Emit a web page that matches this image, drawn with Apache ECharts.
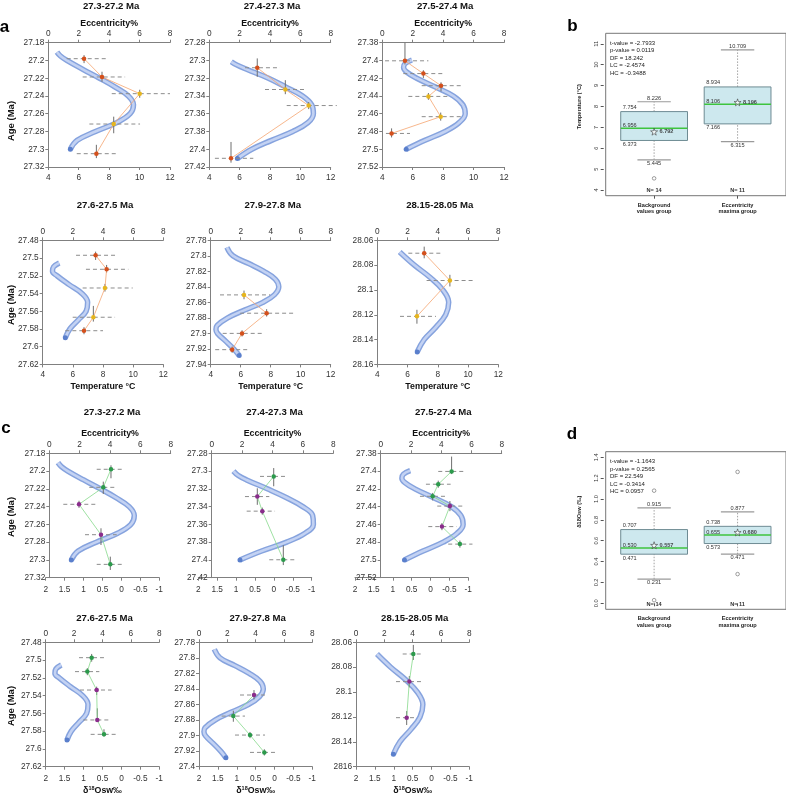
<!DOCTYPE html>
<html>
<head>
<meta charset="utf-8"/>
<title>Eccentricity vs temperature / d18Osw</title>
<script src="https://cdn.jsdelivr.net/npm/echarts@6/dist/echarts.min.js"></script>
<style>
  body { margin: 0; padding: 0; background: #fff; }
  #chart { width: 786px; height: 794px; }
</style>
</head>
<body>
<div id="chart"></div>
<script>
const FONT = '"Liberation Sans", Arial, sans-serif';

// eccentricity curves (age in Ma, eccentricity in %)
const ageW1 = [27.1905, 27.195, 27.2, 27.21, 27.22, 27.23, 27.24, 27.25, 27.26, 27.27, 27.28, 27.29, 27.3];
const eccW1 = [0.57, 0.8, 1.22, 2.27, 3.37, 4.4, 5.26, 5.6, 5.38, 4.5, 3.1, 1.9, 1.45];
const ageW2a = [27.3015, 27.305, 27.31, 27.32, 27.33, 27.34, 27.35, 27.36, 27.37, 27.38, 27.39, 27.40, 27.4105];
const eccW2a = [1.45, 1.8, 2.46, 3.9, 5.05, 6.15, 6.75, 6.86, 6.5, 5.5, 4.1, 2.8, 1.85];
const ageW2c = [27.30, 27.305, 27.31, 27.32, 27.33, 27.34, 27.35, 27.36, 27.37, 27.38, 27.39, 27.40];
const eccW2c = [1.43, 1.75, 2.3, 3.66, 4.93, 5.99, 6.64, 6.69, 6.14, 4.93, 3.29, 1.86];
const ageW3 = [27.3995, 27.4035, 27.408, 27.413, 27.42, 27.43, 27.44, 27.45, 27.46, 27.47, 27.48, 27.49, 27.50];
const eccW3 = [1.95, 1.5, 1.4, 1.6, 2.26, 3.5, 4.67, 5.3, 5.45, 5.05, 4.13, 2.8, 1.57];
const ageW4 = [27.5055, 27.51, 27.515, 27.52, 27.53, 27.54, 27.55, 27.56, 27.57, 27.58, 27.59];
const eccW4 = [1.1, 0.72, 0.65, 0.95, 1.75, 2.6, 2.98, 2.88, 2.35, 1.8, 1.5];
const ageW5 = [27.789, 27.8, 27.81, 27.82, 27.83, 27.84, 27.85, 27.86, 27.87, 27.88, 27.89, 27.895, 27.9, 27.91, 27.92, 27.9285];
const eccW5 = [1.08, 1.48, 2.54, 3.55, 4.3, 4.54, 4.26, 3.48, 2.26, 1.13, 0.42, 0.35, 0.45, 1.0, 1.53, 1.9];
const ageW6 = [28.0694, 28.08, 28.09, 28.10, 28.11, 28.12, 28.13, 28.14, 28.15];
const eccW6 = [1.48, 2.45, 3.5, 4.33, 4.72, 4.52, 3.88, 3.1, 2.64];

// proxy samples: [value, age, err low, err high, age low, age high, group (0 background, 1 maxima)]
const ptsA1 = [
  [6.35, 27.198, 5.21, 7.88, 27.194, 27.203, 0],
  [7.53, 27.2186, 6.26, 9.05, 27.2127, 27.2239, 0],
  [10.01, 27.2374, 8.17, 12.0, 27.233, 27.242, 1],
  [8.3, 27.2716, 6.7, 10.03, 27.2633, 27.282, 1],
  [7.16, 27.305, 5.87, 8.6, 27.295, 27.31, 0]
];
const ptsA2 = [
  [7.16, 27.3082, 6.35, 8.66, 27.2977, 27.3184, 0],
  [9.01, 27.3327, 7.67, 10.37, 27.3222, 27.338, 1],
  [10.55, 27.3508, 9.1, 12.4, 27.3468, 27.3548, 1],
  [5.43, 27.4102, 4.37, 6.9, 27.3918, 27.4151, 0]
];
const ptsA3 = [
  [5.49, 27.4004, 4.18, 7.03, 27.38, 27.4045, 0],
  [6.7, 27.4148, 5.38, 8.01, 27.411, 27.4197, 0],
  [7.86, 27.4284, 6.59, 9.33, 27.4246, 27.4348, 0],
  [7.03, 27.4405, 5.71, 8.34, 27.4367, 27.4443, 1],
  [7.84, 27.4633, 6.59, 9.22, 27.4587, 27.4678, 1],
  [4.61, 27.4822, 4.24, 5.82, 27.4765, 27.4867, 0]
];
const ptsA4 = [
  [7.51, 27.4969, 6.21, 8.95, 27.4928, 27.5022, 0],
  [8.24, 27.5127, 6.87, 9.68, 27.5078, 27.5165, 0],
  [8.13, 27.5338, 6.65, 9.97, 27.5292, 27.5379, 1],
  [7.36, 27.5668, 5.99, 8.8, 27.554, 27.5717, 1],
  [6.74, 27.582, 5.5, 8.0, 27.578, 27.586, 0]
];
const ptsA5 = [
  [6.22, 27.8504, 4.62, 7.96, 27.8448, 27.856, 1],
  [7.73, 27.874, 5.96, 9.62, 27.8688, 27.8783, 0],
  [6.09, 27.9, 4.8, 7.4, 27.896, 27.904, 0],
  [5.43, 27.921, 4.3, 6.6, 27.917, 27.925, 0]
];
const ptsA6 = [
  [7.1, 28.0704, 6.05, 8.36, 28.0651, 28.0745, 0],
  [8.8, 28.0924, 7.26, 10.45, 28.0878, 28.0972, 1],
  [6.62, 28.1213, 5.5, 7.88, 28.116, 28.1272, 1]
];
const ptsC1 = [
  [0.276, 27.198, 0.653, -0.068, 27.1935, 27.2081, 0],
  [0.479, 27.2183, 0.849, 0.109, 27.2119, 27.2258, 0],
  [1.12, 27.2374, 1.535, 0.653, 27.2334, 27.2414, 1],
  [0.54, 27.2716, 0.962, 0.125, 27.2644, 27.2832, 1],
  [0.294, 27.305, 0.653, -0.068, 27.2963, 27.3113, 0]
];
const ptsC2 = [
  [0.005, 27.306, 0.368, -0.339, 27.2966, 27.3171, 0],
  [0.439, 27.3287, 0.765, 0.122, 27.3194, 27.338, 1],
  [0.307, 27.3451, 0.72, -0.03, 27.3411, 27.3491, 1],
  [-0.249, 27.3998, 0.122, -0.603, 27.3834, 27.4058, 0]
];
const ptsC3 = [
  [-0.558, 27.4004, -0.204, -0.91, 27.3837, 27.4034, 0],
  [-0.204, 27.4148, 0.122, -0.532, 27.4108, 27.4188, 0],
  [-0.056, 27.4284, 0.28, -0.407, 27.4246, 27.433, 0],
  [-0.513, 27.4394, -0.178, -0.884, 27.4337, 27.4451, 1],
  [-0.302, 27.4625, 0.06, -0.69, 27.4585, 27.4665, 1],
  [-0.778, 27.4822, -0.468, -1.11, 27.4782, 27.4862, 0]
];
const ptsC4 = [
  [0.786, 27.4973, 1.12, 0.461, 27.4931, 27.5018, 0],
  [0.901, 27.513, 1.226, 0.584, 27.509, 27.517, 0],
  [0.654, 27.5337, 1.094, 0.259, 27.5299, 27.5393, 1],
  [0.637, 27.5674, 1.006, 0.32, 27.5543, 27.5693, 1],
  [0.461, 27.5836, 0.813, 0.144, 27.5779, 27.5862, 0]
];
const ptsC5 = [
  [0.544, 27.8478, 0.914, 0.226, 27.8414, 27.8534, 1],
  [1.091, 27.8749, 1.4, 0.782, 27.868, 27.8822, 0],
  [0.65, 27.8993, 1.047, 0.252, 27.8953, 27.9033, 0],
  [0.27, 27.9216, 0.65, -0.074, 27.9176, 27.9256, 0]
];
const ptsC6 = [
  [0.482, 28.0694, 0.764, 0.261, 28.0621, 28.0742, 0],
  [0.588, 28.0916, 0.941, 0.261, 28.0871, 28.0962, 1],
  [0.658, 28.1206, 0.941, 0.438, 28.1153, 28.1265, 1]
];

// box plot summaries: [lower whisker, Q1, median, Q3, upper whisker]
const boxGroups = ['Background\nvalues group', 'Eccentricity\nmaxima group'];
const tempStats = [[5.445, 6.373, 6.956, 7.754, 8.226], [6.315, 7.166, 8.106, 8.934, 10.709]];
const tempMeans = [6.792, 8.196];
const tempOutliers = [[1, 4.56]];
const tempN = [14, 11];
const tempTest = ['t-value = -2.7933', 'p-value = 0.0119', 'DF = 18.242', 'LC = -2.4574', 'HC = -0.3488'];
const d18Stats = [[0.231, 0.471, 0.530, 0.707, 0.915], [0.471, 0.573, 0.655, 0.738, 0.877]];
const d18Means = [0.557, 0.680];
const d18Outliers = [[1, 1.08], [1, 0.03], [2, 1.26], [2, 0.28]];
const d18N = [14, 11];
const d18Test = ['t-value = -1.1643', 'p-value = 0.2565', 'DF = 22.549', 'LC = -0.3414', 'HC = 0.0957'];

const chart = echarts.init(document.getElementById('chart'));

const D18 = '{n|δ}{s|18}{n|Osw‰}';
const panels = [
  {title: '27.3-27.2 Ma', age: ageW1, ecc: eccW1, pts: ptsA1, kind: 'T', left: 48.3, right: 170, bl: 48.3, br: 170, top: 42.7, bottom: 167, min: 27.18, max: 27.32, eccName: true, titleY: 6},
  {title: '27.4-27.3 Ma', age: ageW2a, ecc: eccW2a, pts: ptsA2, kind: 'T', left: 209.3, right: 330.7, bl: 209.3, br: 330.7, top: 42.7, bottom: 167, min: 27.28, max: 27.42, eccName: true, titleY: 6},
  {title: '27.5-27.4 Ma', age: ageW3, ecc: eccW3, pts: ptsA3, kind: 'T', left: 382.3, right: 504, bl: 382.3, br: 504, top: 42.7, bottom: 167, min: 27.38, max: 27.52, eccName: true, titleY: 6},
  {title: '27.6-27.5 Ma', age: ageW4, ecc: eccW4, pts: ptsA4, kind: 'T', left: 42.7, right: 163.3, bl: 42.7, br: 163.3, top: 240.3, bottom: 364.4, min: 27.48, max: 27.62, botName: 'Temperature °C', titleY: 205},
  {title: '27.9-27.8 Ma', age: ageW5, ecc: eccW5, pts: ptsA5, kind: 'T', left: 210.7, right: 330.7, bl: 210.7, br: 330.7, top: 240.3, bottom: 364.4, min: 27.78, max: 27.94, botName: 'Temperature °C', titleY: 205},
  {title: '28.15-28.05 Ma', age: ageW6, ecc: eccW6, pts: ptsA6, kind: 'T', left: 377.3, right: 498.3, bl: 377.3, br: 498.3, top: 240.3, bottom: 364.4, min: 28.06, max: 28.16, botName: 'Temperature °C', titleY: 205},
  {title: '27.3-27.2 Ma', age: ageW1, ecc: eccW1, pts: ptsC1, kind: 'd', left: 49.3, right: 170.7, bl: 45.7, br: 159.3, top: 453.3, bottom: 577.7, min: 27.18, max: 27.32, eccName: true, titleY: 412},
  {title: '27.4-27.3 Ma', age: ageW2c, ecc: eccW2c, pts: ptsC2, kind: 'd', left: 211.7, right: 333.3, bl: 198.3, br: 311.7, top: 453.3, bottom: 577.7, min: 27.28, max: 27.42, eccName: true, titleY: 412},
  {title: '27.5-27.4 Ma', age: ageW3, ecc: eccW3, pts: ptsC3, kind: 'd', left: 380.7, right: 501.7, bl: 355, br: 468.3, top: 453.3, bottom: 577.7, min: 27.38, max: 27.52, eccName: true, titleY: 412},
  {title: '27.6-27.5 Ma', age: ageW4, ecc: eccW4, pts: ptsC4, kind: 'd', left: 45.7, right: 159.3, bl: 45.7, br: 159.3, top: 642.3, bottom: 766.7, min: 27.48, max: 27.62, botName: D18, titleY: 618},
  {title: '27.9-27.8 Ma', age: ageW5, ecc: eccW5, pts: ptsC5, kind: 'd', left: 199, right: 312.3, bl: 199, br: 312.3, top: 642.3, bottom: 766.7, min: 27.78, max: 27.94, botName: D18, titleY: 618, fix: {'27.94': '27.4'}},
  {title: '28.15-28.05 Ma', age: ageW6, ecc: eccW6, pts: ptsC6, kind: 'd', left: 356, right: 469.3, bl: 356, br: 469.3, top: 642.3, bottom: 766.7, min: 28.06, max: 28.16, botName: D18, titleY: 618, fix: {'28.16': '2816'}}
];

const grids = [], xAxes = [], yAxes = [], series = [], graphics = [];
const axisGray = '#808080';
const tickLabel = {fontSize: 8.3, color: '#333', fontFamily: FONT};

function errRender(params, api) {
  const y = api.value(1);
  const a = api.coord([api.value(2), y]);
  const b = api.coord([api.value(3), y]);
  const c = api.coord([api.value(0), api.value(4)]);
  const d = api.coord([api.value(0), api.value(5)]);
  return {type: 'group', children: [
    {type: 'line', shape: {x1: a[0], y1: a[1], x2: b[0], y2: b[1]}, style: {stroke: '#8c8c8c', lineWidth: 1, lineDash: [4, 3]}},
    {type: 'line', shape: {x1: c[0], y1: c[1], x2: d[0], y2: d[1]}, style: {stroke: '#6f6f6f', lineWidth: 1}}
  ]};
}

panels.forEach((p, i) => {
  const gt = 2 * i, gb = 2 * i + 1;
  const h = p.bottom - p.top;
  grids.push({left: p.left, top: p.top, width: p.right - p.left, height: h, containLabel: false, outerBoundsMode: 'none'});
  grids.push({left: p.bl, top: p.top, width: p.br - p.bl, height: h, containLabel: false, outerBoundsMode: 'none'});
  const isD = p.kind === 'd';
  xAxes.push({
    gridIndex: gt, type: 'value', position: 'top', min: 0, max: 8, interval: 2,
    axisLine: {show: true, lineStyle: {color: axisGray}},
    axisTick: {show: true, length: 3, lineStyle: {color: axisGray}},
    axisLabel: Object.assign({margin: 5}, tickLabel),
    splitLine: {show: false},
    name: p.eccName ? 'Eccentricity%' : '', nameLocation: 'middle', nameGap: 15,
    nameTextStyle: {fontSize: 8.8, fontWeight: 'bold', color: '#111', fontFamily: FONT}
  });
  xAxes.push({
    gridIndex: gb, type: 'value', position: 'bottom',
    min: isD ? -1 : 4, max: isD ? 2 : 12, interval: isD ? 0.5 : 2, inverse: isD,
    axisLine: {show: true, lineStyle: {color: axisGray}},
    axisTick: {show: true, length: 3, lineStyle: {color: axisGray}},
    axisLabel: Object.assign({margin: isD ? 8.5 : 6.5}, tickLabel),
    splitLine: {show: false},
    name: p.botName || '', nameLocation: 'middle', nameGap: isD ? 18.5 : 18,
    nameTextStyle: {fontSize: 8.8, fontWeight: 'bold', color: '#111', fontFamily: FONT,
      rich: {n: {fontSize: 8.8, fontWeight: 'bold', color: '#111', fontFamily: FONT},
             s: {fontSize: 5.5, fontWeight: 'bold', color: '#111', fontFamily: FONT, padding: [0, 0, 5, 0]}}}
  });
  const fix = p.fix || {};
  yAxes.push({
    gridIndex: gt, type: 'value', inverse: true, min: p.min, max: p.max, interval: 0.02,
    axisLine: {show: true, lineStyle: {color: axisGray}},
    axisTick: {show: true, length: 3, lineStyle: {color: axisGray}},
    axisLabel: Object.assign({margin: 4, formatter: v => {
      const s = String(+v.toFixed(2));
      return fix[s] || s;
    }}, tickLabel),
    splitLine: {show: false}
  });
  yAxes.push({gridIndex: gb, type: 'value', inverse: true, min: p.min, max: p.max, show: false});

  // eccentricity curve: light tube with a darker rim, solid dot at the old end
  const curve = p.ecc.map((e, k) => [e, p.age[k]]);
  const outer = curve.map((d, k) => k === curve.length - 1
    ? {value: d, symbol: 'circle', symbolSize: 5, itemStyle: {color: '#5a7fcc'}}
    : d);
  series.push({type: 'line', xAxisIndex: gt, yAxisIndex: gt, data: outer, smooth: 0.4,
    symbol: 'none', lineStyle: {width: 5.5, color: '#86a3de'}, silent: true, z: 2, animation: false});
  series.push({type: 'line', xAxisIndex: gt, yAxisIndex: gt, data: curve, smooth: 0.4,
    symbol: 'none', lineStyle: {width: 2.6, color: '#c3d2f3'}, silent: true, z: 2, animation: false});

  series.push({type: 'custom', xAxisIndex: gb, yAxisIndex: gb, renderItem: errRender,
    data: p.pts.map(q => q.slice(0, 6)), encode: {x: [0, 2, 3], y: [1, 4, 5]}, silent: true, z: 3, animation: false});

  const cols = isD ? ['#2c9a4c', '#8a2c8c'] : ['#d4501c', '#e6b51e'];
  series.push({type: 'line', xAxisIndex: gb, yAxisIndex: gb,
    data: p.pts.map(q => ({value: [q[0], q[1]], itemStyle: {color: cols[q[6]]}})),
    symbol: 'circle', symbolSize: 4.5, showSymbol: true,
    lineStyle: {width: 0.8, color: isD ? '#86d98c' : '#f5a470'}, silent: true, z: 4, animation: false});

  graphics.push({type: 'text', x: (p.left + p.right) / 2 + 2, y: p.titleY,
    style: {text: p.title, fontSize: 9.6, fontWeight: 'bold', fill: '#111', fontFamily: FONT,
      textAlign: 'center', textVerticalAlign: 'middle'}});
});

// age axis titles (left column only)
[121, 305, 517, 706].forEach(y => {
  graphics.push({type: 'text', x: 11, y: y, rotation: Math.PI / 2,
    style: {text: 'Age (Ma)', fontSize: 9.5, fontWeight: 'bold', fill: '#111', fontFamily: FONT,
      textAlign: 'center', textVerticalAlign: 'middle'}});
});
// panel letters
[['a', 4.5, 27], ['b', 572.5, 26], ['c', 6, 428], ['d', 572, 434]].forEach(l => {
  graphics.push({type: 'text', x: l[1], y: l[2],
    style: {text: l[0], fontSize: 17, fontWeight: 'bold', fill: '#000', fontFamily: FONT,
      textAlign: 'center', textVerticalAlign: 'middle'}});
});

// ---- box plots ----
const SMALL = 5.6;
function boxRender(params, api) {
  const pos = api.value(0);
  const v = [1, 2, 3, 4, 5].map(k => api.value(k));
  const P = (x, y) => api.coord([x, y]);
  const cx = P(pos, v[2])[0];
  const bl = P(pos - 0.4, v[2])[0], br = P(pos + 0.4, v[2])[0];
  const cl = P(pos - 0.2, v[2])[0], cr = P(pos + 0.2, v[2])[0];
  const yLo = P(pos, v[0])[1], yQ1 = P(pos, v[1])[1], yMd = P(pos, v[2])[1], yQ3 = P(pos, v[3])[1], yHi = P(pos, v[4])[1];
  const cs = params.coordSys;
  const fmt = x => x.toFixed(3);
  const txt = (x, y, s, align, bold) => ({type: 'text', x: x, y: y,
    style: {text: s, fontSize: SMALL, fontWeight: bold ? 'bold' : 'normal', fill: '#333', fontFamily: FONT,
      textAlign: align, textVerticalAlign: 'middle'}});
  const seg = (x1, y1, x2, y2, st) => ({type: 'line', shape: {x1, y1, x2, y2}, style: st});
  const dash = {stroke: '#8a8a8a', lineWidth: 0.8, lineDash: [1.5, 1.5]};
  const cap = {stroke: '#9a9a9a', lineWidth: 1.2};
  return {type: 'group', children: [
    seg(cx, yLo, cx, yQ1, dash),
    seg(cx, yQ3, cx, yHi, dash),
    seg(cl, yLo, cr, yLo, cap),
    seg(cl, yHi, cr, yHi, cap),
    {type: 'rect', shape: {x: bl, y: yQ3, width: br - bl, height: yQ1 - yQ3},
      style: {fill: '#cde8ee', stroke: '#6e8b93', lineWidth: 1}},
    seg(bl, yMd, br, yMd, {stroke: '#3ec43e', lineWidth: 1.4}),
    txt(cx, yHi - 3.5, fmt(v[4]), 'center'),
    txt(bl + 2, yQ3 - 4, fmt(v[3]), 'left'),
    txt(bl + 2, yMd - 3, fmt(v[2]), 'left'),
    txt(bl + 2, yQ1 + 4, fmt(v[1]), 'left'),
    txt(cx, yLo + 3.5, fmt(v[0]), 'center'),
    txt(cx, cs.y + cs.height - 5, 'N= ' + api.value(6), 'center', true)
  ]};
}

const STAR = 'path://M50,0 L61,35 L98,35 L68,57 L79,91 L50,70 L21,91 L32,57 L2,35 L39,35 Z';
function addBoxPanel(gi, top, height, ymin, ymax, ticks, tickFmt, stats, means, outliers, nList, test, yTitle, yTitleY) {
  grids.push({left: 605.7, top: top, width: 180.3, height: height, show: true, borderColor: '#777',
    borderWidth: 1, backgroundColor: 'transparent', containLabel: false, outerBoundsMode: 'none'});
  xAxes.push({gridIndex: gi, type: 'value', min: 0.42, max: 2.58,
    axisLine: {show: false}, splitLine: {show: false},
    axisTick: {show: true, length: 3, customValues: [1, 2], lineStyle: {color: '#555'}},
    axisLabel: {customValues: [1, 2], formatter: v => boxGroups[Math.round(v) - 1], margin: 6,
      fontSize: SMALL, fontWeight: 'bold', color: '#222', lineHeight: 6.6, fontFamily: FONT}});
  yAxes.push({gridIndex: gi, type: 'value', min: ymin, max: ymax, offset: 2,
    axisLine: {show: false}, splitLine: {show: false},
    axisTick: {show: true, length: 3, customValues: ticks, lineStyle: {color: '#555'}},
    axisLabel: {customValues: ticks, formatter: tickFmt, rotate: 90, margin: 4,
      fontSize: SMALL, color: '#333', fontFamily: FONT}});
  series.push({type: 'custom', xAxisIndex: gi, yAxisIndex: gi, renderItem: boxRender, silent: true,
    data: stats.map((s, k) => [k + 1].concat(s, [nList[k]])), encode: {x: 0, y: [1, 5]}, z: 3, animation: false});
  series.push({type: 'scatter', xAxisIndex: gi, yAxisIndex: gi, silent: true, z: 5, animation: false,
    data: means.map((m, k) => [k + 1, m]), symbol: STAR, symbolSize: 7,
    itemStyle: {color: '#fff', borderColor: '#333', borderWidth: 0.7},
    label: {show: true, position: 'right', distance: 1.5, formatter: q => q.value[1].toFixed(3),
      fontSize: SMALL, fontWeight: 'bold', color: '#222', fontFamily: FONT}});
  series.push({type: 'scatter', xAxisIndex: gi, yAxisIndex: gi, silent: true, z: 5, animation: false,
    data: outliers, symbol: 'circle', symbolSize: 3.6,
    itemStyle: {color: '#fff', borderColor: '#555', borderWidth: 0.7}});
  graphics.push({type: 'text', x: 610, y: top + 6,
    style: {text: test.join('\n'), fontSize: 6, lineHeight: 7.5, fill: '#222', fontFamily: FONT,
      textAlign: 'left', textVerticalAlign: 'top'}});
  graphics.push({type: 'text', x: 579, y: yTitleY, rotation: Math.PI / 2,
    style: {text: yTitle, fontSize: SMALL, fontWeight: 'bold', fill: '#222', fontFamily: FONT,
      textAlign: 'center', textVerticalAlign: 'middle'}});
}

addBoxPanel(24, 33.3, 162.4, 3.73, 11.5, [4, 5, 6, 7, 8, 9, 10, 11], v => String(v),
  tempStats, tempMeans, tempOutliers, tempN, tempTest, 'Temperature (°C)', 106.7);
addBoxPanel(25, 451.7, 157.6, -0.0575, 1.4537, [0, 0.2, 0.4, 0.6, 0.8, 1.0, 1.2, 1.4], v => v.toFixed(1),
  d18Stats, d18Means, d18Outliers, d18N, d18Test, 'δ18Osw (‰)', 511.7);

chart.setOption({
  animation: false,
  backgroundColor: '#fff',
  textStyle: {fontFamily: FONT},
  grid: grids,
  xAxis: xAxes,
  yAxis: yAxes,
  series: series,
  graphic: graphics
});
</script>
</body>
</html>
